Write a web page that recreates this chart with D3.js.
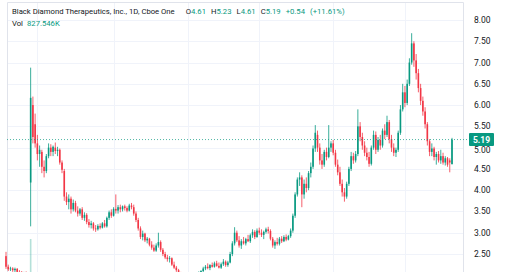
<!DOCTYPE html>
<html>
<head>
<meta charset="utf-8">
<script src="https://cdn.jsdelivr.net/npm/d3@7"></script>
<style>
  body { margin: 0; background: #fff; }
  svg { display: block; font-family: Roboto, "Liberation Sans", sans-serif; }
</style>
</head>
<body>
<div id="chart"></div>
<script>
// daily candles, [open, high, low, close]
const candles = [
  [2.45,2.55,2.15,2.20],[2.20,2.25,2.10,2.14],[2.14,2.20,2.10,2.16],[2.16,2.19,2.08,2.12],[2.12,2.18,2.06,2.15],
  [2.15,2.17,2.04,2.08],[2.08,2.12,2.00,2.05],[2.05,2.10,1.98,2.02],[2.02,2.08,1.97,2.06],[2.06,2.09,1.98,2.01],
  [2.01,2.06,1.95,2.03],[4.18,6.88,3.15,6.17],[6.00,6.20,5.10,5.25],[5.55,5.80,5.00,5.10],[5.10,5.30,4.70,4.85],
  [4.85,5.05,4.55,4.95],[4.90,4.95,4.40,4.55],[4.55,4.70,4.30,4.45],[4.45,4.85,4.40,4.80],[4.80,5.10,4.75,5.00],
  [5.00,5.08,4.80,4.90],[4.90,5.05,4.80,5.02],[5.00,5.12,4.85,4.92],[4.92,5.02,4.80,4.95],[4.95,4.98,4.60,4.65],
  [4.65,4.70,4.40,4.48],[4.45,4.50,3.75,3.85],[3.85,3.95,3.65,3.72],[3.72,3.90,3.55,3.80],[3.80,3.85,3.45,3.55],
  [3.55,3.78,3.50,3.70],[3.70,3.75,3.48,3.52],[3.52,3.62,3.38,3.45],[3.45,3.58,3.40,3.55],[3.55,3.60,3.30,3.35],
  [3.35,3.48,3.28,3.42],[3.42,3.46,3.20,3.25],[3.25,3.32,3.12,3.18],[3.18,3.28,3.10,3.22],[3.22,3.25,3.05,3.10],
  [3.10,3.18,3.02,3.08],[3.08,3.20,3.05,3.16],[3.16,3.22,3.08,3.12],[3.12,3.25,3.10,3.22],[3.22,3.30,3.12,3.15],
  [3.15,3.38,3.12,3.35],[3.35,3.52,3.30,3.48],[3.48,3.55,3.35,3.40],[3.40,3.60,3.38,3.56],[3.56,3.90,3.45,3.52],
  [3.52,3.65,3.45,3.60],[3.60,3.66,3.48,3.55],[3.55,3.64,3.50,3.62],[3.62,3.66,3.52,3.58],[3.58,3.62,3.48,3.52],
  [3.52,3.68,3.50,3.64],[3.64,3.70,3.55,3.60],[3.60,3.66,3.40,3.45],[3.45,3.50,3.25,3.30],[3.30,3.35,3.05,3.10],
  [3.10,3.15,2.85,2.90],[2.90,3.05,2.82,2.98],[2.98,3.00,2.78,2.82],[2.82,2.90,2.75,2.86],[2.86,2.88,2.68,2.72],
  [2.72,2.80,2.60,2.65],[2.65,2.72,2.55,2.58],[2.58,2.75,2.55,2.70],[2.70,3.00,2.65,2.78],[2.78,2.82,2.55,2.60],
  [2.60,2.64,2.45,2.50],[2.50,2.55,2.38,2.42],[2.42,2.48,2.32,2.38],[2.38,2.45,2.30,2.40],[2.40,2.42,2.22,2.25],
  [2.25,2.32,2.15,2.18],[2.18,2.22,2.08,2.12],[2.12,2.15,2.00,2.04],[2.04,2.08,1.98,2.02],[2.02,2.06,1.95,1.98],
  [1.98,2.03,1.92,2.00],[2.00,2.04,1.93,1.96],[1.96,2.00,1.90,1.94],[1.94,2.02,1.92,2.00],[2.00,2.05,1.95,1.98],
  [1.98,2.06,1.96,2.04],[2.04,2.09,2.00,2.06],[2.06,2.12,2.02,2.10],[2.10,2.20,2.06,2.16],[2.16,2.24,2.12,2.20],
  [2.20,2.28,2.14,2.17],[2.17,2.26,2.12,2.24],[2.24,2.30,2.18,2.20],[2.20,2.32,2.18,2.28],[2.28,2.34,2.20,2.22],
  [2.22,2.30,2.16,2.18],[2.18,2.30,2.15,2.26],[2.26,2.38,2.22,2.32],[2.32,2.35,2.20,2.24],[2.24,2.34,2.20,2.30],
  [2.30,2.55,2.28,2.50],[2.50,2.80,2.45,2.75],[2.75,3.13,2.70,3.00],[3.00,3.05,2.78,2.82],[2.82,2.92,2.65,2.70],
  [2.70,2.85,2.62,2.80],[2.80,2.90,2.72,2.75],[2.75,2.88,2.70,2.85],[2.85,2.95,2.78,2.80],[2.80,2.98,2.76,2.94],
  [2.94,3.08,2.88,3.02],[3.02,3.06,2.85,2.90],[2.90,3.10,2.88,3.05],[3.05,3.12,2.95,3.00],[3.00,3.08,2.90,2.95],
  [2.95,3.05,2.85,3.02],[3.02,3.12,2.98,3.08],[3.08,3.14,2.98,3.04],[3.04,3.08,2.82,2.86],[2.86,2.90,2.65,2.70],
  [2.70,2.82,2.62,2.78],[2.78,2.88,2.70,2.74],[2.74,2.90,2.70,2.86],[2.86,2.92,2.76,2.80],[2.80,2.94,2.78,2.90],
  [2.90,2.96,2.80,2.84],[2.84,2.95,2.82,2.92],[2.92,3.10,2.88,3.05],[3.05,3.45,3.00,3.40],[3.40,3.95,3.35,3.90],
  [3.90,4.30,3.85,4.25],[4.25,4.42,4.10,4.30],[4.30,4.35,3.60,3.90],[3.90,4.25,3.80,4.15],[4.15,4.30,3.95,4.05],
  [4.05,4.45,4.00,4.40],[4.40,4.65,4.30,4.55],[4.55,5.05,4.50,4.98],[4.98,5.53,4.90,5.35],[5.30,5.40,4.90,5.00],
  [5.00,5.10,4.60,4.70],[4.70,4.85,4.50,4.60],[4.60,4.95,4.55,4.90],[4.90,5.00,4.70,4.78],[4.78,5.53,4.75,5.00],
  [5.00,5.15,4.90,5.10],[5.10,5.18,4.82,4.88],[4.88,4.95,4.55,4.60],[4.60,4.72,4.35,4.42],[4.42,4.55,4.10,4.15],
  [4.15,4.25,3.85,3.95],[3.95,4.05,3.73,3.85],[3.85,4.20,3.80,4.15],[4.15,4.55,4.10,4.50],[4.50,4.90,4.45,4.80],
  [4.80,4.88,4.62,4.70],[4.70,4.92,4.65,4.85],[4.85,5.90,4.80,5.50],[5.50,5.60,5.15,5.25],[5.25,5.35,4.95,5.05],
  [5.05,5.15,4.80,4.88],[4.88,5.00,4.70,4.78],[4.78,4.90,4.55,4.62],[4.62,5.05,4.58,5.00],[5.00,5.40,4.95,5.30],
  [5.30,5.38,4.85,4.95],[4.95,5.25,4.90,5.18],[5.18,5.30,4.95,5.05],[5.05,5.45,5.00,5.40],[5.40,5.55,5.20,5.30],
  [5.30,5.75,5.25,5.60],[5.60,5.65,5.10,5.20],[5.20,5.30,4.90,5.00],[5.00,5.10,4.80,4.88],[4.88,5.00,4.78,4.95],
  [4.95,5.40,4.90,5.35],[5.35,6.00,5.30,5.90],[5.90,6.50,5.85,6.30],[6.30,6.45,5.95,6.05],[6.05,6.60,6.00,6.50],
  [6.50,7.10,6.45,7.00],[7.00,7.69,6.95,7.45],[7.45,7.50,6.90,7.05],[7.05,7.20,6.60,6.75],[6.75,6.85,6.30,6.40],
  [6.40,6.50,6.00,6.10],[6.10,6.20,5.75,5.85],[5.85,5.95,5.45,5.55],[5.55,5.60,5.05,5.15],[5.15,5.20,4.80,4.90],
  [4.90,5.10,4.80,4.98],[4.98,5.02,4.70,4.78],[4.78,4.90,4.60,4.85],[4.85,4.92,4.65,4.70],[4.70,4.95,4.62,4.80],
  [4.80,4.88,4.60,4.65],[4.65,4.80,4.58,4.75],[4.75,4.78,4.55,4.60],[4.70,4.75,4.42,4.65],[4.61,5.23,4.61,5.19]
];

// volume in thousands
const volumes = [
  420,380,310,290,350,300,270,330,290,260,310,
  35000,
  9800,5200,3100,2600,2200,1900,1700,1500,1300,
  1200,1100,1400,1300,1800,2600,1900,1400,1200,1000,
  950,900,850,800,780,820,760,700,740,690,
  650,700,720,680,760,880,720,800,1300,900,
  760,700,680,650,720,690,900,1100,1300,1500,
  1000,950,880,920,1000,980,1200,1400,900,1000,
  950,880,800,1100,1000,900,850,760,700,680,
  650,720,690,640,700,680,720,800,760,680,
  700,650,720,640,600,680,740,620,700,1600,
  2400,3600,1800,1300,1100,1000,900,880,1000,1100,
  950,1050,900,850,920,980,900,1200,1500,1000,
  900,850,800,880,780,820,1400,2600,3900,4800,
  3200,3600,2100,1800,1900,2200,3400,4200,2600,2200,
  1800,1700,1500,2400,1900,1600,1800,1900,2000,2100,
  2300,1900,2200,2100,1600,1500,3900,2500,1900,1700,
  1500,1600,2000,2300,1900,1500,1400,1900,1600,2500,
  2100,1700,1500,1300,2400,3600,4500,2900,3300,4700,
  5600,3800,3100,2900,2600,2400,2300,2700,2200,1500,
  1300,1200,1100,1000,950,900,880,850,827.546
];

const priceTicks = [2.5, 3, 3.5, 4, 4.5, 5, 5.5, 6, 6.5, 7, 7.5, 8];
const timeGridIdx = [14, 48, 81, 113, 146, 178];
const lastPrice = 5.19;
const titleText = "Black Diamond Therapeutics, Inc., 1D, Cboe One";
const ohlcLabels = [["O", "4.61"], ["H", "5.23"], ["L", "4.61"], ["C", "5.19"], ["", "+0.54"], ["", "(+11.61%)"]];
const volLabel = ["Vol", "827.546K"];

const W = 520, H = 272;
const pane = {left: 7, right: 463, top: 2};
const UP = "#089981", DOWN = "#f23645", TEXT = "#131722", GRID = "#f0f3fa";

const svg = d3.select("#chart").append("svg")
    .attr("width", W)
    .attr("height", H);

svg.append("rect").attr("width", W).attr("height", H).style("fill", "#fff");

const x = d3.scaleLinear().domain([0, candles.length - 1]).range([6, 452]);
const y = d3.scaleLinear().domain([2.5, 8]).range([254, 20]);
const v = d3.scaleLinear().domain([0, d3.max(volumes)]).range([0, 66]);
const volBase = 305;

// grid
svg.append("g").selectAll("line.hgrid")
    .data(priceTicks).enter()
  .append("line")
    .attr("x1", pane.left).attr("x2", pane.right)
    .attr("y1", d => Math.round(y(d)) + 0.5).attr("y2", d => Math.round(y(d)) + 0.5)
    .style("stroke", GRID).style("stroke-width", 1);

svg.append("g").selectAll("line.vgrid")
    .data(timeGridIdx).enter()
  .append("line")
    .attr("x1", d => Math.round(x(d)) + 0.5).attr("x2", d => Math.round(x(d)) + 0.5)
    .attr("y1", pane.top).attr("y2", H)
    .style("stroke", GRID).style("stroke-width", 1);

// pane border
svg.append("path")
    .attr("d", "M" + (pane.left + 0.5) + "," + H + "V" + (pane.top + 0.5) + "H" + (pane.right + 0.5) + "V" + H)
    .style("fill", "none").style("stroke", "#e0e3eb");

// volume
svg.append("g").selectAll("rect")
    .data(volumes).enter()
  .append("rect")
    .attr("x", (d, i) => x(i) - 0.8)
    .attr("width", 1.6)
    .attr("y", d => volBase - v(d))
    .attr("height", d => v(d))
    .style("fill", (d, i) => candles[i][3] >= candles[i][0] ? UP : DOWN)
    .style("opacity", 0.3);

// candles
const cg = svg.append("g").selectAll("g")
    .data(candles).enter()
  .append("g");

cg.append("line")
    .attr("x1", (d, i) => x(i)).attr("x2", (d, i) => x(i))
    .attr("y1", d => y(d[1])).attr("y2", d => y(d[2]))
    .style("stroke", d => d[3] >= d[0] ? UP : DOWN)
    .style("stroke-width", 0.8);

cg.append("rect")
    .attr("x", (d, i) => x(i) - 0.8)
    .attr("width", 1.6)
    .attr("y", d => y(Math.max(d[0], d[3])))
    .attr("height", d => Math.max(0.8, Math.abs(y(d[0]) - y(d[3]))))
    .style("fill", d => d[3] >= d[0] ? UP : DOWN);

// last price line
svg.append("line")
    .attr("x1", pane.left).attr("x2", pane.right + 6)
    .attr("y1", y(lastPrice)).attr("y2", y(lastPrice))
    .style("stroke", UP).style("stroke-width", 1)
    .style("stroke-dasharray", "1,2").style("opacity", 0.7);

// price axis labels (5.00 sits partly under the last-price tag, as in the source)
svg.append("g").selectAll("text")
    .data(priceTicks).enter()
  .append("text")
    .attr("x", 474)
    .attr("y", d => y(d) + (d == 5 ? 2 : 0))
    .style("font-size", "8.5px")
    .style("fill", TEXT)
    .style("dominant-baseline", "central")
    .text(d => d3.format(".2f")(d));

const lbl = svg.append("g").attr("transform", "translate(469," + y(lastPrice) + ")");
lbl.append("rect")
    .attr("x", 0).attr("y", -6.5)
    .attr("width", 25).attr("height", 13)
    .attr("rx", 1)
    .style("fill", UP);
lbl.append("text")
    .attr("x", 12.5).attr("y", 0.5)
    .style("text-anchor", "middle")
    .style("dominant-baseline", "central")
    .style("font-size", "8.5px")
    .style("font-weight", 700)
    .style("fill", "#fff")
    .text(d3.format(".2f")(lastPrice));

// legend
const title = svg.append("text")
    .attr("x", 12).attr("y", 14)
    .style("font-size", "7.7px")
    .style("fill", TEXT);
title.append("tspan").text(titleText);
ohlcLabels.forEach(function(d, i) {
  var gap = i == 0 ? 11 : 5;
  if (d[0]) title.append("tspan").attr("dx", gap).text(d[0]);
  title.append("tspan").attr("dx", d[0] ? 0 : gap).style("fill", UP).text(d[1]);
});

const vol = svg.append("text")
    .attr("x", 12).attr("y", 26)
    .style("font-size", "7.7px")
    .style("fill", TEXT);
vol.append("tspan").text(volLabel[0]);
vol.append("tspan").attr("dx", 4).style("fill", UP).text(volLabel[1]);
</script>
</body>
</html>
